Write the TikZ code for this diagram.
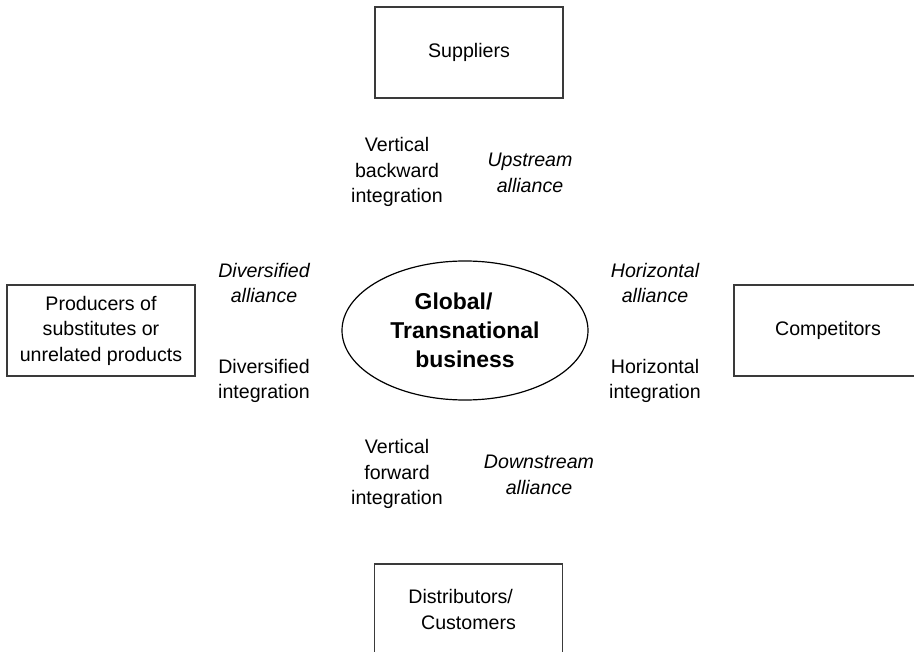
\documentclass[tikz,border=0pt]{standalone}
\usepackage{fontspec}
\setmainfont{Liberation Sans}
\usepackage{tikz}
\usetikzlibrary{positioning,shapes.geometric}
\definecolor{edgegray}{HTML}{3A3A3A}

\tikzset{
  party/.style={draw=edgegray,line width=1.1pt,minimum width=141pt,
    minimum height=68.25pt,inner sep=0pt,align=center,
    font=\fontsize{14.7}{19.1}\selectfont},
  mode/.style={align=center,inner sep=0pt,font=\fontsize{14.7}{19.1}\selectfont},
  alli/.style={mode,font=\fontsize{14.7}{19.1}\selectfont\itshape}
}

\begin{document}
\begin{tikzpicture}[x=0.75pt,y=-0.75pt]
\useasboundingbox (0,0) rectangle (914,652);
\clip (0,0) rectangle (914,652);
% the four outside parties
\node[party] (suppliers) at (469,52.5) {Suppliers};
\node[party] (producers) at (101,330.5) {Producers of\\substitutes or\\unrelated products};
\node[party] (competitors) at (828,330.5) {Competitors};
\node[party] (distributors) at (468.5,609.5) {Distributors/\hspace*{0.8em}\\Customers};
% the business in the middle
\node[draw=black,ellipse,line width=0.9pt,minimum width=184.5pt,
minimum height=104.25pt,inner sep=0pt,align=center,
font=\fontsize{17.2}{21.8}\selectfont\bfseries] (business) at (465,330.5)
{Global/\hspace*{1em}\\Transnational\\business};
% integration and alliance labels
\node[mode] (backward) at (397,172) {Vertical\\backward\\integration};
\node[alli] (upstream) at (530,173) {Upstream\\alliance};
\node[alli] (divalliance) at (264,283) {Diversified\\alliance};
\node[mode] (divintegration) at (264,381) {Diversified\\integration};
\node[alli] (horalliance) at (655,283) {Horizontal\\alliance};
\node[mode] (horintegration) at (655,381) {Horizontal\\integration};
\node[mode] (forward) at (397,474) {Vertical\\forward\\integration};
\node[alli] (downstream) at (539,475) {Downstream\\alliance};
\end{tikzpicture}
\end{document}
